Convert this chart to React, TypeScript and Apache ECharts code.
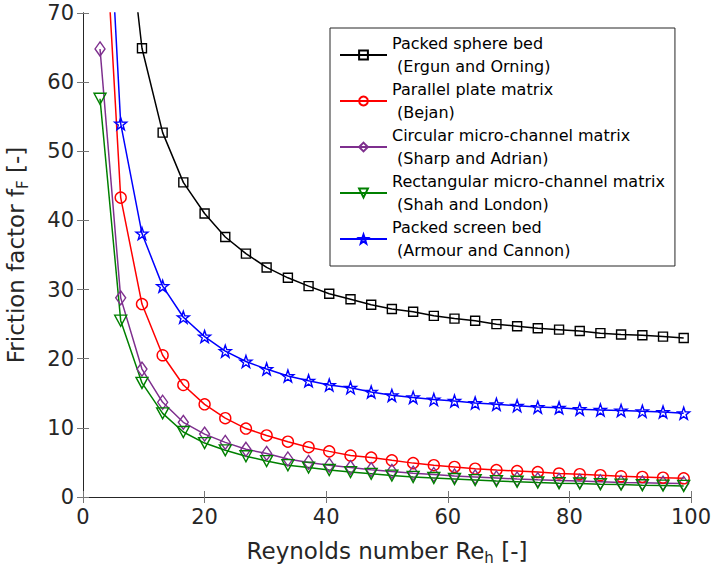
import React, { useEffect, useRef } from "react";
import * as echarts from "echarts";

const reynolds = [2.8, 6.2, 9.7, 13.1, 16.5, 20.0, 23.4, 26.8, 30.2, 33.7, 37.1, 40.5, 44.0, 47.4, 50.8, 54.3, 57.7, 61.1, 64.5, 68.0, 71.4, 74.8, 78.3, 81.7, 85.1, 88.5, 92.0, 95.4, 98.8];

const packedSphere = [185, 92, 64.9, 52.7, 45.5, 41.0, 37.6, 35.2, 33.2, 31.7, 30.5, 29.4, 28.6, 27.8, 27.2, 26.8, 26.2, 25.8, 25.5, 25.0, 24.7, 24.4, 24.2, 24.0, 23.7, 23.5, 23.4, 23.2, 23.0];
const parallelPlate = [96, 43.3, 27.9, 20.5, 16.2, 13.4, 11.4, 9.9, 8.9, 8.0, 7.2, 6.6, 6.0, 5.7, 5.3, 4.9, 4.6, 4.35, 4.1, 3.9, 3.75, 3.6, 3.4, 3.3, 3.15, 3.0, 2.9, 2.8, 2.7];
const circularChannel = [64.8, 28.8, 18.5, 13.7, 10.8, 9.1, 7.9, 6.9, 6.3, 5.5, 5.0, 4.6, 4.25, 3.95, 3.7, 3.45, 3.25, 3.05, 2.9, 2.75, 2.6, 2.5, 2.4, 2.3, 2.2, 2.1, 2.05, 2.0, 1.95];
const rectChannel = [57.6, 25.5, 16.5, 12.1, 9.4, 7.8, 6.75, 5.9, 5.2, 4.6, 4.25, 3.9, 3.6, 3.35, 3.1, 2.9, 2.75, 2.6, 2.45, 2.3, 2.2, 2.1, 2.0, 1.95, 1.85, 1.8, 1.7, 1.65, 1.6];
const packedScreen = [110, 54.0, 38.1, 30.5, 26.0, 23.2, 21.1, 19.6, 18.5, 17.5, 16.8, 16.2, 15.8, 15.2, 14.7, 14.4, 14.1, 13.9, 13.6, 13.4, 13.2, 13.0, 12.9, 12.7, 12.6, 12.5, 12.4, 12.3, 12.1];

const seriesNames = [
  "Packed sphere bed\n (Ergun and Orning)",
  "Parallel plate matrix\n (Bejan)",
  "Circular micro-channel matrix\n (Sharp and Adrian)",
  "Rectangular micro-channel matrix\n (Shah and London)",
  "Packed screen bed\n (Armour and Cannon)",
];

const FONT = "'DejaVu Sans', 'Liberation Sans', Arial, sans-serif";
const AXIS_COLOR = "#262626";

const STAR =
  "path://M0,-10 L2.35,-3.24 L9.51,-3.09 L3.80,1.24 L5.88,8.09 L0,4 L-5.88,8.09 L-3.80,1.24 L-9.51,-3.09 L-2.35,-3.24 Z";
const TRI_DOWN = "path://M0,0 L10,0 L5,8.66 Z";

export default function App() {
  const ref = useRef<HTMLDivElement>(null);

  useEffect(() => {
    document.body.style.margin = "0";
    if (!ref.current) return;
    const chart = echarts.init(ref.current, undefined, { renderer: "svg" });

    const mk = (
      name: string,
      values: number[],
      color: string,
      symbol: string,
      size: number | number[]
    ) => ({
      name,
      type: "line",
      data: reynolds.map((x, i) => [x, values[i]]),
      symbol,
      symbolSize: size,
      showAllSymbol: true,
      clip: true,
      lineStyle: { color, width: 1.5 },
      itemStyle: { color: "rgba(255,255,255,0)", borderColor: color, borderWidth: 1.4 },
      emphasis: { disabled: true },
      z: 3,
    });

    const tickStyle = { show: true, inside: true, length: 6, lineStyle: { color: "#777", width: 1 } };
    const nameStyle = (size: number) => ({
      color: AXIS_COLOR,
      fontFamily: FONT,
      fontSize: size,
      rich: {
        a: { fontSize: size, fontFamily: FONT, color: AXIS_COLOR },
        s: { fontSize: 15, fontFamily: FONT, color: AXIS_COLOR, padding: [13, 0, 0, 0] },
      },
    });

    chart.setOption({
      animation: false,
      backgroundColor: "#fff",
      textStyle: { fontFamily: FONT },
      grid: { left: 83, right: 22, top: 13, bottom: 81, containLabel: false, outerBoundsMode: "none" },
      legend: {
        orient: "vertical",
        left: 330,
        top: 28,
        padding: [4, 10, 4, 9],
        itemGap: 0,
        itemWidth: 47,
        itemHeight: 11,
        backgroundColor: "#fff",
        borderColor: AXIS_COLOR,
        borderWidth: 1,
        textStyle: { fontFamily: FONT, fontSize: 16, color: "#000", lineHeight: 23 },
        data: seriesNames,
        selectedMode: false,
      },
      xAxis: [
        {
          type: "value",
          min: 0,
          max: 100,
          interval: 20,
          position: "bottom",
          axisLine: { show: true, lineStyle: { color: AXIS_COLOR, width: 1 } },
          axisTick: tickStyle,
          splitLine: { show: false },
          axisLabel: { fontFamily: FONT, fontSize: 21, color: AXIS_COLOR, margin: 9 },
          name: "{a|Reynolds number Re}{s|h}{a| [-]}",
          nameLocation: "middle",
          nameGap: 40,
          nameTextStyle: nameStyle(23),
        },
        {
          type: "value",
          min: 0,
          max: 100,
          interval: 20,
          position: "top",
          axisLine: { show: true, lineStyle: { color: AXIS_COLOR, width: 1 } },
          axisTick: tickStyle,
          splitLine: { show: false },
          axisLabel: { show: false },
        },
      ],
      yAxis: [
        {
          type: "value",
          min: 0,
          max: 70,
          interval: 10,
          position: "left",
          axisLine: { show: true, lineStyle: { color: AXIS_COLOR, width: 1 } },
          axisTick: tickStyle,
          splitLine: { show: false },
          axisLabel: { fontFamily: FONT, fontSize: 21, color: AXIS_COLOR, margin: 9 },
          name: "{a|Friction factor f}{s|F}{a| [-]}",
          nameLocation: "middle",
          nameGap: 53,
          nameTextStyle: nameStyle(23),
        },
        {
          type: "value",
          min: 0,
          max: 70,
          interval: 10,
          position: "right",
          axisLine: { show: true, lineStyle: { color: AXIS_COLOR, width: 1 } },
          axisTick: tickStyle,
          splitLine: { show: false },
          axisLabel: { show: false },
        },
      ],
      series: [
        mk(seriesNames[0], packedSphere, "#000000", "rect", 9),
        mk(seriesNames[1], parallelPlate, "#ff0000", "circle", 11),
        mk(seriesNames[2], circularChannel, "#7e2f8e", "diamond", [10, 14]),
        mk(seriesNames[3], rectChannel, "#008000", TRI_DOWN, [12, 11]),
        mk(seriesNames[4], packedScreen, "#0000ff", STAR, 12),
      ],
    });

    return () => chart.dispose();
  }, []);

  return <div ref={ref} style={{ width: 713, height: 578 }} />;
}
